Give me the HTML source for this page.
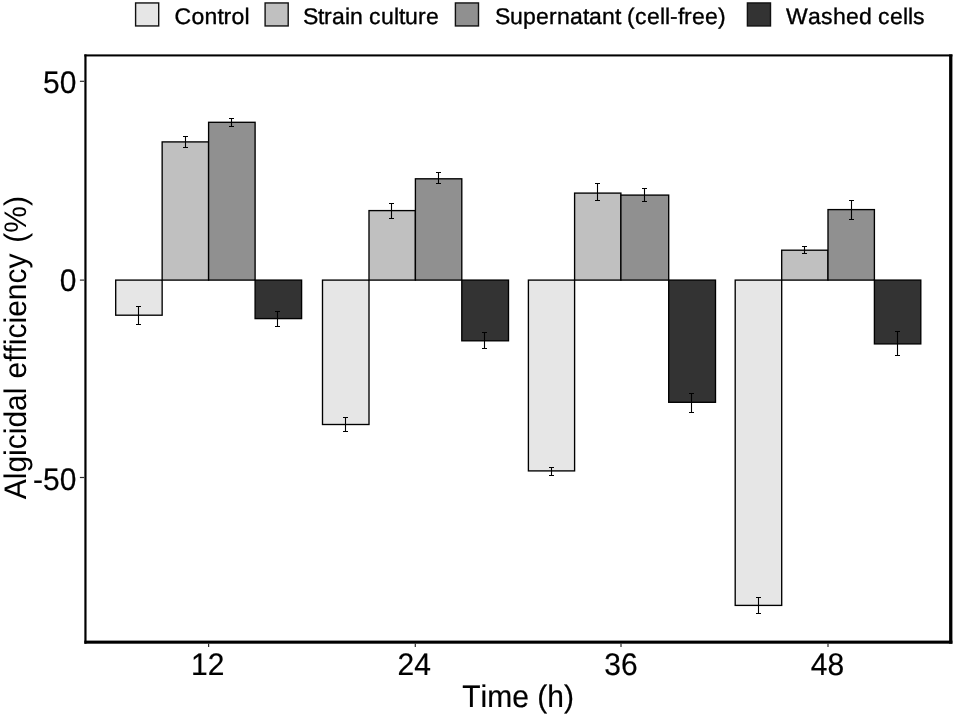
<!DOCTYPE html>
<html lang="en"><head><meta charset="utf-8"><title>Algicidal efficiency</title>
<style>html,body{margin:0;padding:0;background:#fff}body{width:955px;height:715px;overflow:hidden}svg{display:block}text{font-variant-ligatures:none;font-feature-settings:"liga" 0,"clig" 0;font-kerning:none;text-rendering:geometricPrecision;font-family:"Liberation Sans",Arial,sans-serif;fill:#000}</style></head><body>
<svg width="955" height="715" viewBox="0 0 955 715">
<rect x="0" y="0" width="955" height="715" fill="#fff"/>
<g stroke="#000" stroke-width="1.35">
<rect x="115.70" y="280.10" width="46.45" height="35.10" fill="#E6E6E6"/>
<rect x="162.15" y="141.90" width="46.45" height="138.20" fill="#C0C0C0"/>
<rect x="208.60" y="122.30" width="46.50" height="157.80" fill="#909090"/>
<rect x="255.10" y="280.10" width="46.50" height="38.50" fill="#333333"/>
<rect x="322.50" y="280.10" width="46.50" height="144.40" fill="#E6E6E6"/>
<rect x="369.00" y="210.60" width="46.40" height="69.50" fill="#C0C0C0"/>
<rect x="415.40" y="178.80" width="46.40" height="101.30" fill="#909090"/>
<rect x="461.80" y="280.10" width="46.70" height="60.70" fill="#333333"/>
<rect x="528.40" y="280.10" width="46.20" height="190.80" fill="#E6E6E6"/>
<rect x="574.60" y="193.10" width="46.30" height="87.00" fill="#C0C0C0"/>
<rect x="620.90" y="195.10" width="47.80" height="85.00" fill="#909090"/>
<rect x="668.70" y="280.10" width="46.80" height="122.20" fill="#333333"/>
<rect x="735.20" y="280.10" width="46.50" height="325.30" fill="#E6E6E6"/>
<rect x="781.70" y="250.20" width="46.30" height="29.90" fill="#C0C0C0"/>
<rect x="828.00" y="209.60" width="46.40" height="70.50" fill="#909090"/>
<rect x="874.40" y="280.10" width="46.40" height="63.80" fill="#333333"/>
</g>
<g stroke="#000" stroke-width="1.1" fill="none">
<path d="M136.0 306.5H141.0M138.5 306.5V324.5M136.0 324.5H141.0"/>
<path d="M183.0 136.5H188.0M185.5 136.5V147.5M183.0 147.5H188.0"/>
<path d="M229.0 118.5H234.0M231.5 118.5V126.5M229.0 126.5H234.0"/>
<path d="M275.0 311.5H280.0M277.5 311.5V326.5M275.0 326.5H280.0"/>
<path d="M343.0 417.5H348.0M345.5 417.5V431.5M343.0 431.5H348.0"/>
<path d="M389.0 203.5H394.0M391.5 203.5V218.5M389.0 218.5H394.0"/>
<path d="M436.0 172.5H441.0M438.5 172.5V183.5M436.0 183.5H441.0"/>
<path d="M482.0 332.5H487.0M484.5 332.5V348.5M482.0 348.5H487.0"/>
<path d="M549.0 467.5H554.0M551.5 467.5V475.5M549.0 475.5H554.0"/>
<path d="M595.0 183.5H600.0M597.5 183.5V200.5M595.0 200.5H600.0"/>
<path d="M642.0 188.5H647.0M644.5 188.5V201.5M642.0 201.5H647.0"/>
<path d="M689.0 393.5H694.0M691.5 393.5V412.5M689.0 412.5H694.0"/>
<path d="M756.0 597.5H761.0M758.5 597.5V613.5M756.0 613.5H761.0"/>
<path d="M802.0 246.5H807.0M804.5 246.5V253.5M802.0 253.5H807.0"/>
<path d="M849.0 200.5H854.0M851.5 200.5V219.5M849.0 219.5H854.0"/>
<path d="M895.0 331.5H900.0M897.5 331.5V355.5M895.0 355.5H900.0"/>
</g>
<g fill="#000">
<rect x="84.35" y="54.4" width="2.20" height="589.30"/>
<rect x="949.1" y="54.4" width="3.30" height="589.30"/>
<rect x="84.35" y="54.4" width="868.05" height="2.05"/>
<rect x="84.35" y="640.6" width="868.05" height="3.10"/>
</g>
<g stroke="#2a2a2a" stroke-width="1.2">
<line x1="79.9" x2="84.2" y1="81.3" y2="81.3"/>
<line x1="79.9" x2="84.2" y1="280.1" y2="280.1"/>
<line x1="79.9" x2="84.2" y1="477.5" y2="477.5"/>
<line x1="208.60" x2="208.60" y1="643.4" y2="646.9"/>
<line x1="415.30" x2="415.30" y1="643.4" y2="646.9"/>
<line x1="621.00" x2="621.00" y1="643.4" y2="646.9"/>
<line x1="828.00" x2="828.00" y1="643.4" y2="646.9"/>
</g>
<g font-size="30" text-anchor="end" stroke="#000" stroke-width="0.2">
<text transform="translate(76.4 93.3) scale(1 1.04)">50</text>
<text transform="translate(76.4 291.0) scale(1 1.04)">0</text>
<text transform="translate(76.4 489.7) scale(1 1.04)">-50</text>
</g>
<g font-size="30" text-anchor="middle">
<text stroke="#000" stroke-width="0.2" transform="translate(207.70 674.9) scale(1 1.04)">12</text>
<text stroke="#000" stroke-width="0.2" transform="translate(414.30 674.9) scale(1 1.04)">24</text>
<text stroke="#000" stroke-width="0.2" transform="translate(620.90 674.9) scale(1 1.04)">36</text>
<text stroke="#000" stroke-width="0.2" transform="translate(827.50 674.9) scale(1 1.04)">48</text>
<text stroke="#000" stroke-width="0.2" transform="translate(518.1 706.5) scale(1 1.04)">Time (h)</text>
<text transform="translate(25.8 443.4) rotate(-90) scale(1 1.04)">Algicidal<tspan x="127.4"> efficiency </tspan><tspan x="224.1">(%)</tspan></text>
</g>
<g stroke="#111" stroke-width="1.4">
<rect x="135.6" y="2.95" width="23.1" height="23" fill="#E6E6E6"/>
<rect x="265.1" y="2.95" width="23.1" height="23" fill="#C0C0C0"/>
<rect x="455.4" y="2.95" width="23.1" height="23" fill="#909090"/>
<rect x="747.4" y="2.95" width="23.1" height="23" fill="#333333"/>
</g>
<g font-size="23" stroke="#000" stroke-width="0.35">
<text x="0 17 30 43 49 57 70" transform="translate(174.4 23.85) scale(1 0.985)">Control</text>
<text x="0 15 21 29 42 47 60 66 78 91 96 102 115 123" transform="translate(302.9 23.85) scale(1 0.985)">Strain culture</text>
<text x="0 15 28 41 54 62 75 88 94 107 120 126 132 140 152 165 170 175 183 189 197 210 223" transform="translate(494.9 23.85) scale(1 0.985)">Supernatant (cell-free)</text>
<text x="0 22 35 47 60 73 86 92 104 117 122 127" transform="translate(786.0 23.85) scale(1 0.985)">Washed cells</text>
</g>
</svg></body></html>
